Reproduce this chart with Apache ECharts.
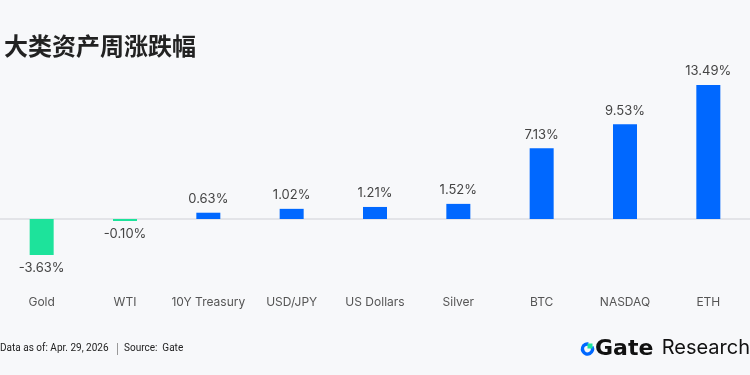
<!DOCTYPE html>
<html>
<head>
<meta charset="utf-8">
<script src="https://cdn.jsdelivr.net/npm/echarts@6/dist/echarts.min.js"></script>
<style>
  html, body { margin: 0; padding: 0; background: #f7f8fa; }
  #chart { width: 750px; height: 375px; }
</style>
</head>
<body>
<div id="chart"></div>
<script>
// categories and weekly change (%)
const categories = ['Gold', 'WTI', '10Y Treasury', 'USD/JPY', 'US Dollars', 'Silver', 'BTC', 'NASDAQ', 'ETH'];
const changes = [-3.63, -0.10, 0.63, 1.02, 1.21, 1.52, 7.13, 9.53, 13.49];

const UP = '#0068ff';
const DOWN = '#1de39b';
const footStyle = { fontFamily: 'Roboto, sans-serif', fontSize: 10, fontWeight: 'normal', color: '#222' };

const chart = echarts.init(document.getElementById('chart'));

const option = {
  backgroundColor: '#f7f8fa',
  textStyle: { fontFamily: 'Inter, "Noto Sans", sans-serif' },
  title: [
    {
      text: '大类资产周涨跌幅',
      left: -1,
      top: 29,
      textStyle: { fontFamily: '"Noto Sans CJK SC", sans-serif', fontSize: 24, fontWeight: 'bold', color: '#222' }
    },
    { text: 'Data as of: Apr. 29, 2026', left: -5, top: 338, textStyle: footStyle },
    { text: 'Source:  Gate', left: 119, top: 338, textStyle: footStyle }
  ],
  grid: { left: 0, right: -1, top: 70, height: 218.5 },
  xAxis: {
    type: 'category',
    data: categories,
    axisLine: { show: false },
    axisTick: { show: false },
    axisLabel: { color: '#555', fontSize: 12, margin: 8, interval: 0 }
  },
  yAxis: {
    type: 'value',
    min: -7,
    max: 15,
    show: false,
    splitLine: { show: false }
  },
  series: [{
    type: 'bar',
    barWidth: 24,
    barMinHeight: 2,
    data: changes.map(v => ({
      value: v,
      itemStyle: { color: v < 0 ? DOWN : UP },
      label: { position: v < 0 ? 'bottom' : 'top' }
    })),
    label: {
      show: true,
      distance: 7,
      color: '#444',
      fontSize: 13,
      formatter: p => p.value.toFixed(2) + '%'
    },
    markLine: {
      silent: true,
      symbol: 'none',
      z: 1,
      label: { show: false },
      lineStyle: { color: '#dcdee2', type: 'solid', width: 1.5 },
      data: [{ yAxis: 0 }]
    },
    z: 3
  }],
  graphic: [
    {
      type: 'rect', shape: { x: 117, y: 343, width: 1, height: 12 },
      style: { fill: '#999' }
    },
    {
      type: 'arc', shape: { cx: 587.5, cy: 349, r: 5, startAngle: -Math.PI * 0.15, endAngle: Math.PI * 1.55, clockwise: true },
      style: { stroke: UP, lineWidth: 3.5, fill: null }
    },
    {
      type: 'rect', shape: { x: 587.5, y: 343.5, width: 5, height: 5 },
      style: { fill: DOWN }
    },
    {
      type: 'text', left: 595, top: 338,
      style: { text: 'Gate', fontSize: 22, fontWeight: 'bold', fill: '#111', fontFamily: '"DejaVu Sans", sans-serif' }
    },
    {
      type: 'text', right: 0, top: 338,
      style: { text: 'Research', fontSize: 20, fill: '#111', fontFamily: 'Inter, sans-serif' }
    }
  ]
};

chart.setOption(option);
</script>
</body>
</html>
